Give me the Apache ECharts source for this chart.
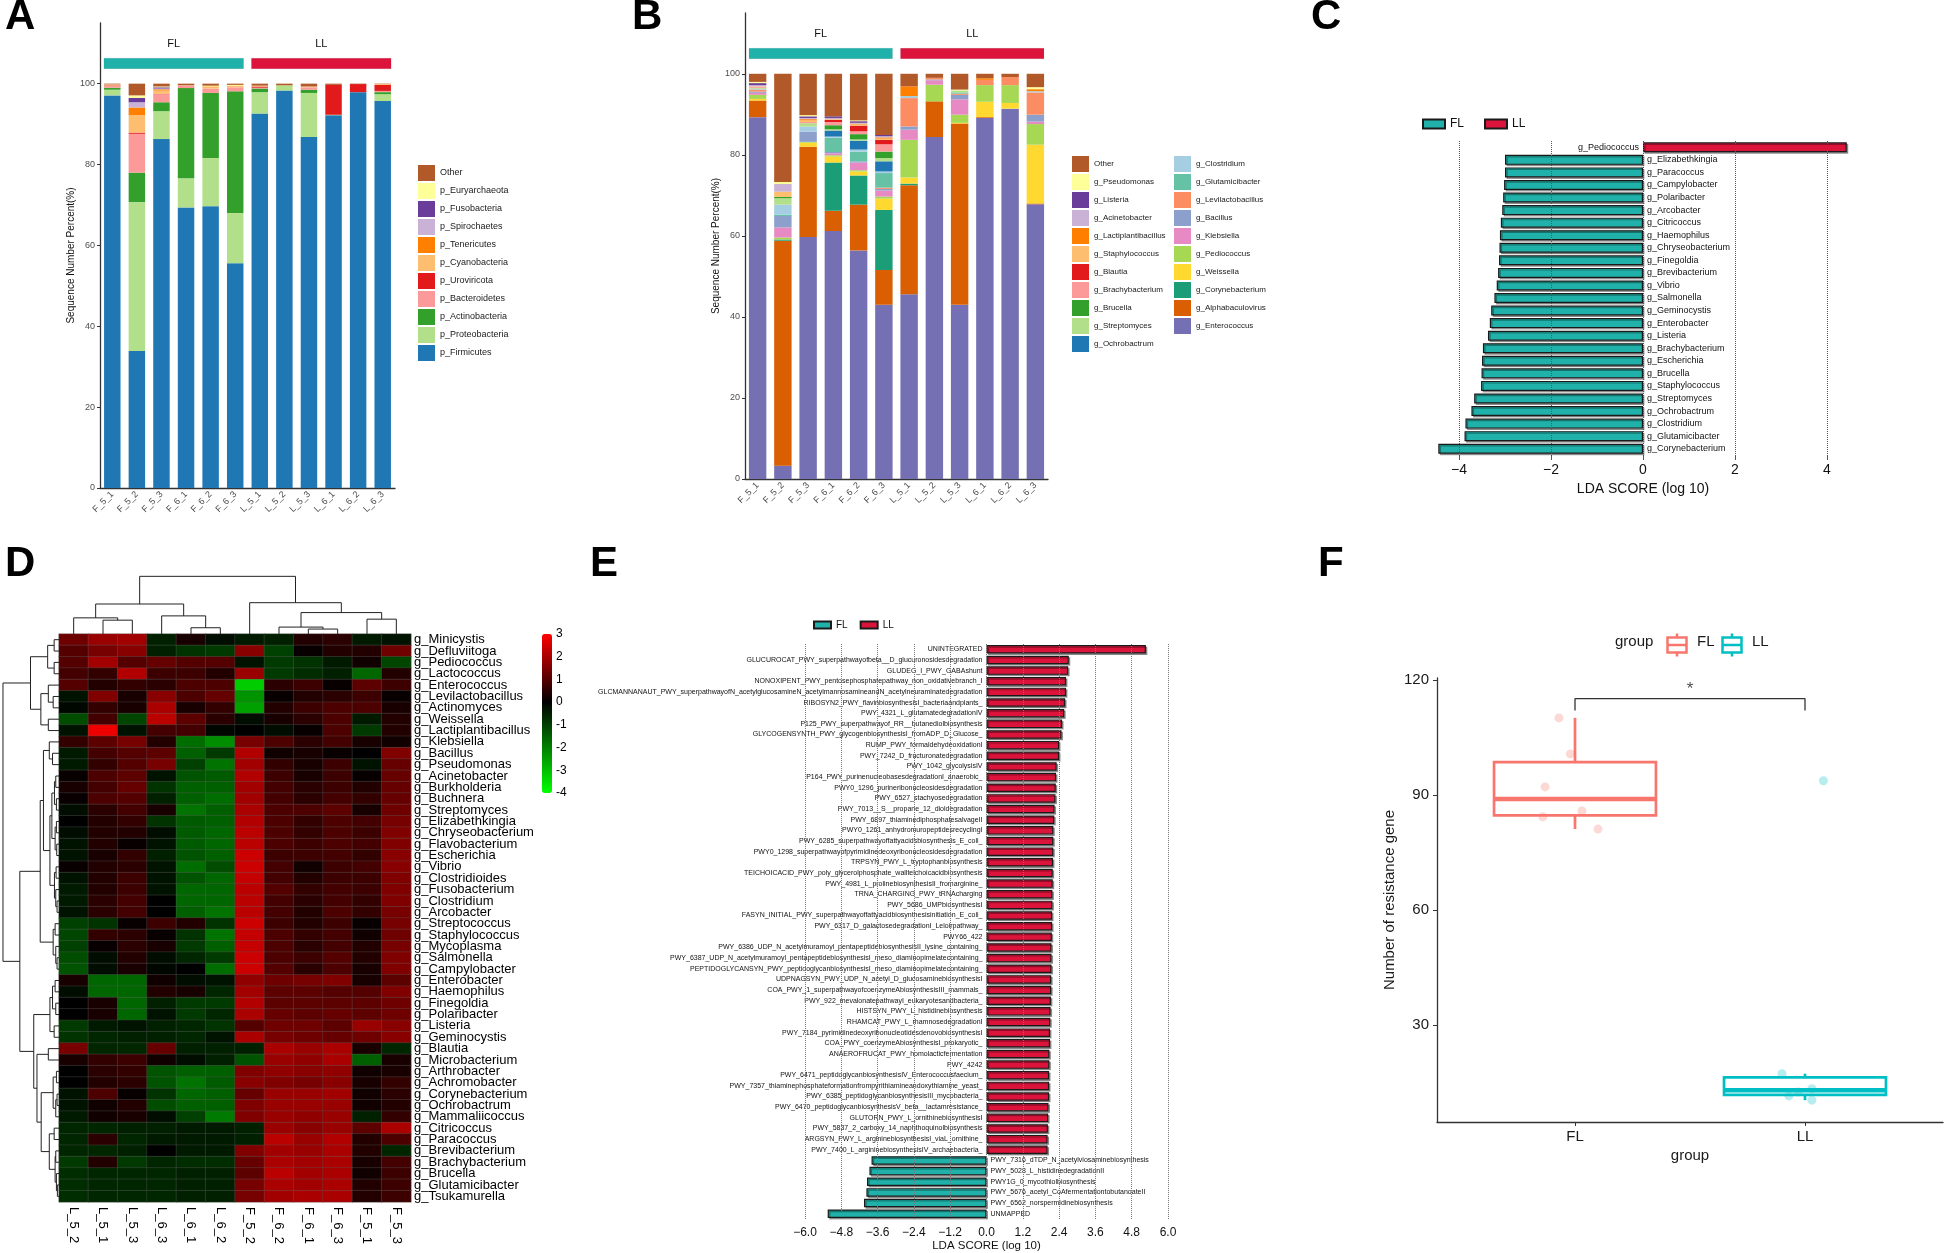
<!DOCTYPE html>
<html>
<head>
<meta charset="utf-8">
<script src="https://cdn.jsdelivr.net/npm/echarts@6.0.0/dist/echarts.min.js"></script>
<style>
html,body{margin:0;padding:0;background:#fff;}
#main{width:1944px;height:1253px;}
</style>
</head>
<body>
<div id="main"></div>
<script>
var SANS = "'Liberation Sans', Arial, sans-serif";
var NARROW = "'Liberation Sans Narrow', 'Liberation Sans', sans-serif";

// ---------- A / B : stacked composition ----------
var samples = ['F_5_1','F_5_2','F_5_3','F_6_1','F_6_2','F_6_3','L_5_1','L_5_2','L_5_3','L_6_1','L_6_2','L_6_3'];
var pctTicks = [0, 20, 40, 60, 80, 100];
var groupNames = ['FL', 'LL'];
var groupFirst = [0, 6];
var groupLast = [5, 11];
var groupColors = ['#20b2aa', '#dc143c'];

// bottom -> top of the stack
var phylumNames = ['p_Firmicutes','p_Proteobacteria','p_Actinobacteria','p_Bacteroidetes','p_Uroviricota','p_Cyanobacteria','p_Tenericutes','p_Spirochaetes','p_Fusobacteria','p_Euryarchaeota','Other'];
var phylumColors = ['#1f78b4','#b2df8a','#33a02c','#fb9a99','#e31a1c','#fdbf6f','#ff7f00','#cab2d6','#6a3d9a','#ffff99','#b15928'];
var phylumValues = [
  [97.1, 33.9, 86.3, 69.4, 69.7, 55.6, 92.6, 98.3, 86.8, 92.2, 97.9, 95.7],
  [1.4, 36.8, 6.9, 7.2, 11.9, 12.4, 5.3, 1.3, 10.9, 0.1, 0, 1.7],
  [0.5, 7.3, 2.2, 22.3, 16.1, 30.1, 0.9, 0, 0.8, 0, 0, 0.5],
  [0.5, 9.6, 2.0, 0.6, 1.1, 1.0, 0.2, 0, 0.6, 0, 0, 0.3],
  [0.1, 0.3, 0.1, 0, 0, 0, 0.3, 0, 0, 7.4, 2.0, 1.5],
  [0.1, 4.3, 0.8, 0.1, 0.3, 0.3, 0.1, 0, 0.2, 0, 0, 0.2],
  [0, 1.9, 0.3, 0, 0.2, 0.1, 0, 0, 0, 0, 0, 0],
  [0, 1.3, 0.2, 0, 0, 0, 0, 0, 0, 0, 0, 0],
  [0, 1.1, 0.3, 0, 0, 0, 0, 0, 0, 0, 0, 0],
  [0.1, 0.6, 0.2, 0, 0.2, 0.2, 0.1, 0, 0, 0, 0, 0],
  [0.2, 2.9, 0.7, 0.4, 0.5, 0.3, 0.5, 0.4, 0.7, 0.3, 0.1, 0.1]
];

var genusNames = ['g_Enterococcus','g_Alphabaculovirus','g_Corynebacterium','g_Weissella','g_Pediococcus','g_Klebsiella','g_Bacillus','g_Levilactobacillus','g_Glutamicibacter','g_Clostridium','g_Ochrobactrum','g_Streptomyces','g_Brucella','g_Brachybacterium','g_Blautia','g_Staphylococcus','g_Lactiplantibacillus','g_Acinetobacter','g_Listeria','g_Pseudomonas','Other'];
var genusColors = ['#7570b3','#d95f02','#1b9e77','#ffd92f','#a6d854','#e78ac3','#8da0cb','#fc8d62','#66c2a5','#a6cee3','#1f78b4','#b2df8a','#33a02c','#fb9a99','#e31a1c','#fdbf6f','#ff7f00','#cab2d6','#6a3d9a','#ffff99','#b15928'];
var genusValues = [
  [89.3, 3.3, 59.7, 61.2, 56.4, 43.0, 45.6, 84.4, 43.0, 89.1, 91.4, 67.8],
  [4.1, 55.5, 22.3, 5.0, 11.3, 8.6, 26.9, 8.8, 44.7, 0.2, 0, 0.2],
  [0, 0.3, 0, 11.9, 7.2, 14.8, 0.4, 0, 0, 0, 0, 0],
  [0.4, 0, 1.0, 1.5, 1.0, 2.8, 1.5, 0, 0.2, 3.8, 1.4, 14.5],
  [1.0, 0.5, 0.2, 0.3, 0.3, 0.5, 9.3, 4.1, 2.0, 4.1, 4.4, 5.1],
  [0.5, 2.5, 0, 0.5, 1.9, 1.5, 2.5, 1.1, 3.8, 0, 0, 0.6],
  [0.3, 2.8, 2.5, 0.3, 0.3, 0.4, 0.8, 0.2, 1.1, 0, 0, 1.7],
  [0.5, 0, 0, 0, 0, 0.3, 7.0, 0.4, 0.3, 1.3, 2.0, 5.5],
  [0, 0.3, 0, 3.5, 2.4, 3.6, 0, 0, 0.3, 0, 0, 0],
  [0.2, 2.5, 1.3, 0.3, 0.5, 0.4, 0.5, 0, 0, 0, 0, 0.3],
  [0, 0, 0, 1.5, 2.2, 2.5, 0, 0, 0, 0, 0, 0],
  [0.2, 1.6, 0.8, 0.3, 0.3, 0.8, 0, 0, 0.5, 0, 0, 0],
  [0, 0.3, 0, 1.0, 1.3, 1.6, 0, 0, 0, 0, 0, 0],
  [0.2, 0, 0.3, 0.8, 0.7, 1.8, 0, 0, 0, 0, 0, 0],
  [0, 0, 0, 0.5, 1.4, 1.1, 0, 0, 0, 0, 0, 0],
  [0.2, 1.3, 0.4, 0.2, 0.3, 0.3, 0, 0, 0, 0, 0, 0],
  [0, 0, 0.3, 0, 0.2, 0.3, 2.4, 0, 0, 0.4, 0, 0.5],
  [0.3, 1.9, 0.3, 0.3, 0.2, 0.3, 0, 0, 0, 0, 0, 0],
  [0.5, 0, 0.4, 0.4, 0.4, 0.3, 0, 0, 0, 0, 0, 0],
  [0.3, 0.5, 0.3, 0, 0.2, 0, 0, 0, 0.2, 0, 0, 0.5],
  [2.0, 26.7, 10.2, 10.5, 11.5, 15.1, 3.1, 1.0, 3.9, 1.1, 0.8, 3.3]
];

// ---------- C : LEfSe genera ----------
var cNames = ['g_Pediococcus','g_Elizabethkingia','g_Paracoccus','g_Campylobacter','g_Polaribacter','g_Arcobacter','g_Citricoccus','g_Haemophilus','g_Chryseobacterium','g_Finegoldia','g_Brevibacterium','g_Vibrio','g_Salmonella','g_Geminocystis','g_Enterobacter','g_Listeria','g_Brachybacterium','g_Escherichia','g_Brucella','g_Staphylococcus','g_Streptomyces','g_Ochrobactrum','g_Clostridium','g_Glutamicibacter','g_Corynebacterium'];
var cScores = [4.43, -3.0, -3.0, -3.02, -3.04, -3.06, -3.09, -3.11, -3.12, -3.13, -3.15, -3.18, -3.23, -3.30, -3.33, -3.37, -3.48, -3.50, -3.51, -3.52, -3.67, -3.73, -3.86, -3.88, -4.45];
var cTicks = [-4, -2, 0, 2, 4];

// ---------- D : heatmap ----------
var hmCols = ['L_5_2','L_5_1','L_5_3','L_6_3','L_6_1','L_6_2','F_5_2','F_6_2','F_6_1','F_6_3','F_5_1','F_5_3'];
var hmRows = ['g_Minicystis','g_Defluviitoga','g_Pediococcus','g_Lactococcus','g_Enterococcus','g_Levilactobacillus','g_Actinomyces','g_Weissella','g_Lactiplantibacillus','g_Klebsiella','g_Bacillus','g_Pseudomonas','g_Acinetobacter','g_Burkholderia','g_Buchnera','g_Streptomyces','g_Elizabethkingia','g_Chryseobacterium','g_Flavobacterium','g_Escherichia','g_Vibrio','g_Clostridioides','g_Fusobacterium','g_Clostridium','g_Arcobacter','g_Streptococcus','g_Staphylococcus','g_Mycoplasma','g_Salmonella','g_Campylobacter','g_Enterobacter','g_Haemophilus','g_Finegoldia','g_Polaribacter','g_Listeria','g_Geminocystis','g_Blautia','g_Microbacterium','g_Arthrobacter','g_Achromobacter','g_Corynebacterium','g_Ochrobactrum','g_Mammaliicoccus','g_Citricoccus','g_Paracoccus','g_Brevibacterium','g_Brachybacterium','g_Brucella','g_Glutamicibacter','g_Tsukamurella'];
var hmValues = [
  [1.3, 1.8, 1.9, -0.5, 0.3, -0.2, -0.4, -0.5, 0.4, 0.5, -0.4, -0.3],
  [1.0, 1.4, 1.6, -0.5, -0.8, -0.9, 1.6, -1.0, 0.1, 0.4, 0.4, 1.3],
  [1.0, 1.9, 1.0, 1.2, 1.0, 1.0, -0.3, -0.9, -0.8, -0.4, 0.2, -1.1],
  [0.8, 0.6, 2.1, 0.7, 0.7, 0.4, 1.8, -0.9, -0.7, -0.5, -1.6, 0.4],
  [1.0, 0.4, 0.6, 0.5, 0.9, 0.9, -3.2, 0.5, 0.7, 0.1, 1.1, 0.7],
  [-0.3, 1.5, 0.3, 1.6, 0.9, 1.2, -2.3, 0.1, 0.4, 0.5, 0.7, 0.1],
  [-0.1, 0.6, 0.3, 2.0, 0.3, 0.6, -2.5, 0.4, 0.7, 0.9, 0.9, 0.3],
  [-1.2, 0.8, -1.1, 2.2, 1.1, 0.5, -0.2, 0.3, 0.5, 0.9, -0.4, 0.4],
  [-0.3, 2.8, -0.3, 0.8, 0.8, -0.1, 0.0, -0.2, 0.1, 0.9, -0.9, 0.4],
  [0.6, 1.1, 1.4, 0.4, -1.7, -2.2, 1.4, 0.9, 0.5, 0.8, 0.3, 0.2],
  [-0.4, 0.8, 1.0, 1.1, -1.5, -0.9, 2.1, 0.2, 0.3, 0.1, 0.0, 1.5],
  [-0.4, 0.6, 1.0, 1.4, -1.0, -1.8, 1.9, 0.6, 0.3, 0.7, -0.3, 1.2],
  [0.1, 0.9, 1.1, -0.3, -1.3, -1.4, 2.1, 0.7, 0.3, 0.7, 0.1, 1.2],
  [0.3, 0.8, 1.2, -0.8, -1.5, -1.5, 1.9, 0.8, 0.5, 0.7, 0.4, 1.2],
  [0.1, 0.9, 1.0, -0.5, -1.5, -1.7, 1.9, 0.8, 0.5, 0.8, 0.6, 1.2],
  [-0.2, 0.5, 0.8, 0.3, -1.8, -1.5, 2.0, 0.9, 0.9, 1.1, 0.3, 1.3],
  [0.0, 0.4, 0.6, -0.8, -1.4, -1.5, 2.1, 0.9, 0.6, 0.9, 0.8, 1.4],
  [-0.2, 0.4, 0.4, -0.2, -1.4, -1.6, 2.2, 0.9, 0.6, 0.9, 0.7, 1.5],
  [-0.3, 0.4, 0.1, -0.3, -1.4, -1.6, 2.2, 0.9, 0.7, 0.9, 0.8, 1.5],
  [-0.3, 0.3, 0.6, -0.5, -1.3, -1.5, 2.4, 0.7, 0.7, 0.8, 0.6, 1.6],
  [0.1, 0.4, 0.5, -0.3, -1.7, -1.2, 2.4, 0.8, 0.2, 0.7, 0.8, 1.6],
  [-0.3, 0.4, 0.7, -0.3, -1.3, -1.6, 2.3, 0.8, 0.4, 0.7, 0.7, 1.5],
  [-0.4, 0.4, 0.7, -0.3, -1.6, -1.6, 2.2, 1.0, 0.6, 0.8, 0.7, 1.5],
  [-0.4, 0.5, 0.8, 0.0, -1.6, -1.6, 2.2, 0.8, 0.5, 0.8, 0.6, 1.5],
  [-0.3, 0.5, 0.8, 0.0, -1.5, -1.8, 2.2, 0.8, 0.4, 0.9, 0.6, 1.4],
  [-1.0, -0.8, 0.1, 0.7, 0.4, -0.8, 2.4, 0.7, 0.4, 0.7, 0.1, 1.4],
  [-1.1, 0.6, 0.5, 0.1, -0.8, -1.8, 2.3, 0.9, 0.6, 0.8, 0.2, 1.3],
  [-1.0, 0.1, 0.5, 0.3, -0.9, -1.5, 2.3, 0.9, 0.5, 0.8, 0.4, 1.4],
  [-1.2, -0.2, 0.4, -0.2, -0.6, -0.9, 2.4, 0.9, 0.7, 1.0, 0.4, 1.5],
  [-1.3, -0.2, 0.3, -0.1, 0.0, -1.7, 2.4, 1.0, 0.5, 0.9, 0.3, 1.5],
  [0.3, -1.6, -1.6, 0.2, -0.2, -0.3, 1.7, 1.3, 1.4, 1.5, 0.3, 1.1],
  [-0.2, -1.6, -1.6, 0.4, 0.3, -0.6, 1.9, 1.1, 1.1, 1.0, 1.0, 1.5],
  [0.0, 0.3, -1.6, -0.5, -0.9, -0.9, 2.1, 1.1, 1.1, 1.1, 1.1, 1.3],
  [0.0, 0.3, -1.6, -0.3, -0.9, -0.6, 2.0, 1.2, 1.1, 1.2, 1.1, 1.3],
  [-0.9, -0.4, -0.3, -0.5, -0.6, -0.8, 1.0, 1.3, 1.3, 1.1, 1.8, 1.6],
  [-0.8, -0.6, -0.5, -0.5, -0.6, -0.3, 2.0, 1.4, 1.3, 1.2, 1.3, 1.6],
  [1.4, -0.6, -0.6, 1.2, -0.5, -0.5, -0.5, 2.0, 1.8, 2.0, 0.3, -0.6],
  [0.3, 0.6, 0.7, 0.2, -0.2, -0.5, -1.3, 1.8, 1.7, 2.0, -1.5, 0.3],
  [0.0, 0.5, 0.6, -1.3, -1.5, -1.5, 1.5, 1.7, 1.6, 1.7, 0.2, 0.3],
  [0.0, 0.4, 0.5, -1.3, -1.8, -1.4, 1.6, 1.5, 1.4, 1.6, 0.3, 0.6],
  [-0.3, 0.9, 0.1, -0.8, -1.6, -1.5, 1.2, 1.8, 1.8, 1.9, 0.2, 0.5],
  [-0.3, 0.2, 0.4, -1.2, -1.5, -1.5, 1.5, 1.8, 1.8, 1.8, 0.2, 0.4],
  [-0.4, 0.2, 0.3, -0.2, -1.0, -1.9, 1.5, 1.8, 1.7, 1.8, -0.5, 0.6],
  [-0.6, -0.6, -0.5, -0.5, -0.4, -0.4, -0.5, 1.8, 1.6, 1.8, 1.1, 2.0],
  [-0.6, 0.5, -0.6, -0.4, -0.4, -0.4, -0.5, 2.2, 1.8, 2.1, 0.4, 0.9],
  [-0.6, -0.6, -0.5, 0.0, -0.4, -0.4, 1.5, 1.9, 1.8, 2.0, 0.4, -0.6],
  [-0.9, 0.4, -0.9, -0.6, -0.7, -0.7, 1.2, 2.0, 1.9, 2.0, 0.3, 0.8],
  [-0.7, -0.6, -0.6, -0.6, -0.5, -0.5, 1.1, 2.2, 1.9, 2.0, 0.2, 0.7],
  [-0.7, -0.6, -0.6, -0.6, -0.5, -0.5, 1.4, 2.0, 1.9, 2.0, 0.4, 0.7],
  [-0.7, -0.6, -0.6, -0.6, -0.5, -0.5, 1.4, 1.9, 2.0, 2.0, 0.4, 0.7]
];
// cluster trees: [left, right, mergeHeight], leaves are indices
var colTree = [[[0, [1, 2, 42], 49], [3, [4, 5, 19], 55], 91], [6, [[7, [8, 9, 15], 21], [10, 11, 45], 65], 95], 175];
var rowTree = [
  [[[0, 1, 15], [2, 3, 15], 35], [[4, [5, 6, 18], 33], [7, 8, 33], 56], 88],
  [
    [[[9, [10, 11, 20], 30], [[[[12, 13, 10], [14, 15, 8], 14], [[16, 17, 8], [18, 19, 7], 12], 22], [[20, 21, 9], [22, [23, 24, 6], 10], 14], 28], 48],
     [[25, 26, 12], [27, [28, 29, 6], 10], 18], 58],
    [[[[30, 31, 12], [32, 33, 10], 20], [34, 35, 15], 28],
     [[36, 37, 33], [[[38, 39, 8], [[40, 41, 6], 42, 10], 18], [[43, 44, 15], [[45, 46, 10], [47, [48, 49, 5], 8], 12], 30], 55], 68], 78],
    121],
  173];
var hmScale = [-4, -3, -2, -1, 0, 1, 2, 3];

// ---------- E : LEfSe pathways ----------
var ePaths = ['UNINTEGRATED','GLUCUROCAT_PWY_superpathwayofbeta__D_glucuronosidesdegradation','GLUDEG_I_PWY_GABAshunt','NONOXIPENT_PWY_pentosephosphatepathway_non_oxidativebranch_I','GLCMANNANAUT_PWY_superpathwayofN_acetylglucosamineN_acetylmannosamineandN_acetylneuraminatedegradation','RIBOSYN2_PWY_flavinbiosynthesisI_bacteriaandplants_','PWY_4321_L_glutamatedegradationIV','P125_PWY_superpathwayof_RR__butanediolbiosynthesis','GLYCOGENSYNTH_PWY_glycogenbiosynthesisI_fromADP_D_Glucose_','RUMP_PWY_formaldehydeoxidationI','PWY_7242_D_fructuronatedegradation','PWY_1042_glycolysisIV','P164_PWY_purinenucleobasesdegradationI_anaerobic_','PWY0_1296_purineribonucleosidesdegradation','PWY_6527_stachyosedegradation','PWY_7013__S__propane_12_dioldegradation','PWY_6897_thiaminediphosphatesalvageII','PWY0_1261_anhydromuropeptidesrecyclingI','PWY_6285_superpathwayoffattyacidsbiosynthesis_E_coli_','PWY0_1298_superpathwayofpyrimidinedeoxyribonucleosidesdegradation','TRPSYN_PWY_L_tryptophanbiosynthesis','TEICHOICACID_PWY_poly_glycerolphosphate_wallteichoicacidbiosynthesis','PWY_4981_L_prolinebiosynthesisII_fromarginine_','TRNA_CHARGING_PWY_tRNAcharging','PWY_5686_UMPbiosynthesisI','FASYN_INITIAL_PWY_superpathwayoffattyacidbiosynthesisinitiation_E_coli_','PWY_6317_D_galactosedegradationI_Leloirpathway_','PWY66_422','PWY_6386_UDP_N_acetylmuramoyl_pentapeptidebiosynthesisII_lysine_containing_','PWY_6387_UDP_N_acetylmuramoyl_pentapeptidebiosynthesisI_meso_diaminopimelatecontaining_','PEPTIDOGLYCANSYN_PWY_peptidoglycanbiosynthesisI_meso_diaminopimelatecontaining_','UDPNAGSYN_PWY_UDP_N_acetyl_D_glucosaminebiosynthesisI','COA_PWY_1_superpathwayofcoenzymeAbiosynthesisIII_mammals_','PWY_922_mevalonatepathwayI_eukaryotesandbacteria_','HISTSYN_PWY_L_histidinebiosynthesis','RHAMCAT_PWY_L_rhamnosedegradationI','PWY_7184_pyrimidinedeoxyribonucleotidesdenovobiosynthesisI','COA_PWY_coenzymeAbiosynthesisI_prokaryotic_','ANAEROFRUCAT_PWY_homolacticfermentation','PWY_4242','PWY_6471_peptidoglycanbiosynthesisIV_Enterococcusfaecium_','PWY_7357_thiaminephosphateformationfrompyrithiamineandoxythiamine_yeast_','PWY_6385_peptidoglycanbiosynthesisIII_mycobacteria_','PWY_6470_peptidoglycanbiosynthesisV_beta__lactamresistance_','GLUTORN_PWY_L_ornithinebiosynthesisI','PWY_5837_2_carboxy_14_naphthoquinolbiosynthesis','ARGSYN_PWY_L_argininebiosynthesisI_viaL_ornithine_','PWY_7400_L_argininebiosynthesisIV_archaebacteria_','PWY_7316_dTDP_N_acetylviosaminebiosynthesis','PWY_5028_L_histidinedegradationII','PWY1G_0_mycothiolbiosynthesis','PWY_5676_acetyl_CoAfermentationtobutanoateII','PWY_6562_norspermidinebiosynthesis','UNMAPPED'];
var eScores = [5.27, 2.72, 2.70, 2.63, 2.63, 2.60, 2.57, 2.50, 2.48, 2.40, 2.40, 2.32, 2.30, 2.29, 2.28, 2.25, 2.24, 2.21, 2.21, 2.21, 2.20, 2.19, 2.19, 2.18, 2.18, 2.17, 2.17, 2.16, 2.15, 2.15, 2.15, 2.14, 2.14, 2.13, 2.12, 2.11, 2.10, 2.10, 2.08, 2.08, 2.07, 2.07, 2.07, 2.05, 2.04, 2.03, 2.02, 2.02, -3.80, -3.87, -3.95, -3.97, -4.05, -5.25];
var eTicks = [-6, -4.8, -3.6, -2.4, -1.2, 0, 1.2, 2.4, 3.6, 4.8, 6];

// ---------- F : resistance genes ----------
var fGroups = ['FL', 'LL'];
var fColors = ['#f8766d', '#00bfc4'];
var flCounts = [110.1, 100.7, 92.1, 85.8, 84.3, 81.1];
var flJitter = [0.93, 0.98, 0.87, 1.03, 0.86, 1.10];
var llCounts = [93.7, 17.3, 13.4, 12.5, 11.5, 10.4];
var llJitter = [2.08, 1.90, 2.03, 1.97, 1.93, 2.03];
var fTicks = [30, 60, 90, 120];
var sigBracket = [[1, 112.0], [1, 115.1], [2, 115.1], [2, 112.0]];
var sigStar = [1.5, 117.6];

// ---------- helpers ----------
function minusFmt(d) {
  return function (v) { var s = d ? Math.abs(v).toFixed(d) : String(Math.abs(v)); return (v < 0 ? '\u2212' : '') + s; };
}

function headerItem(params, api) {
  var a = api.coord([api.value(0), 106.3]);
  var b = api.coord([api.value(1), 103.7]);
  var t = api.coord([api.value(0), 109.9]);
  var half = api.size([1, 0])[0] * 0.34;
  var i = api.value(2);
  return {type: 'group', children: [
    {type: 'rect', shape: {x: a[0] - half, y: a[1], width: b[0] - a[0] + 2 * half, height: b[1] - a[1]},
     style: {fill: groupColors[i], stroke: 'rgba(0,0,0,0.12)', lineWidth: 0.6}},
    {type: 'text', x: (a[0] + b[0]) / 2, y: t[1],
     style: {text: groupNames[i], fill: '#111', fontSize: 11, fontFamily: SANS, align: 'center', verticalAlign: 'middle'}}
  ]};
}
function headerSeries(ax) {
  return {type: 'custom', xAxisIndex: ax, yAxisIndex: ax, renderItem: headerItem, silent: true,
          data: groupFirst.map(function (f, i) { return [f, groupLast[i], i]; })};
}

function dendroSegments(tree, sideways) {
  var segs = [];
  function walk(t) {
    if (typeof t === 'number') return {p: t + 0.5, h: 0};
    var l = walk(t[0]), r = walk(t[1]), h = t[2];
    segs.push([l.p, l.h, l.p, h], [r.p, r.h, r.p, h], [l.p, h, r.p, h]);
    return {p: (l.p + r.p) / 2, h: h};
  }
  walk(tree);
  return sideways ? segs.map(function (s) { return [s[1], s[0], s[3], s[2]]; }) : segs;
}
function segItem(params, api) {
  var p1 = api.coord([api.value(0), api.value(1)]);
  var p2 = api.coord([api.value(2), api.value(3)]);
  return {type: 'line', shape: {x1: p1[0], y1: p1[1], x2: p2[0], y2: p2[1]}, style: {stroke: '#222', lineWidth: 1}};
}

function quantile(s, p) {
  var pos = (s.length - 1) * p, lo = Math.floor(pos), hi = Math.ceil(pos);
  return s[lo] + (s[hi] - s[lo]) * (pos - lo);
}
function boxStats(vals) {
  var s = vals.slice().sort(function (a, b) { return a - b; });
  var q1 = quantile(s, 0.25), med = quantile(s, 0.5), q3 = quantile(s, 0.75), iqr = q3 - q1;
  var inside = s.filter(function (v) { return v >= q1 - 1.5 * iqr && v <= q3 + 1.5 * iqr; });
  return [inside[0], q1, med, q3, inside[inside.length - 1]];
}
function boxItem(params, api) {
  var x = api.value(0), half = 0.352, c = fColors[params.dataIndex];
  var lo = api.coord([x, api.value(1)]), q1 = api.coord([x, api.value(2)]), md = api.coord([x, api.value(3)]);
  var q3 = api.coord([x, api.value(4)]), hi = api.coord([x, api.value(5)]);
  var L = api.coord([x - half, api.value(3)])[0], R = api.coord([x + half, api.value(3)])[0];
  return {type: 'group', children: [
    {type: 'line', shape: {x1: lo[0], y1: lo[1], x2: q1[0], y2: q1[1]}, style: {stroke: c, lineWidth: 2.7}},
    {type: 'line', shape: {x1: hi[0], y1: hi[1], x2: q3[0], y2: q3[1]}, style: {stroke: c, lineWidth: 2.7}},
    {type: 'rect', shape: {x: L, y: q3[1], width: R - L, height: q1[1] - q3[1]}, style: {fill: 'transparent', stroke: c, lineWidth: 2.7}},
    {type: 'line', shape: {x1: L, y1: md[1], x2: R, y2: md[1]}, style: {stroke: c, lineWidth: 4.5}}
  ]};
}

// ---------- series ----------
var series = [];
phylumNames.forEach(function (name, i) {
  series.push({type: 'bar', name: name, stack: 'phylum', xAxisIndex: 0, yAxisIndex: 0, barWidth: '67%',
               data: phylumValues[i], itemStyle: {color: phylumColors[i]}});
});
series.push(headerSeries(0));
genusNames.forEach(function (name, i) {
  series.push({type: 'bar', name: name, stack: 'genus', xAxisIndex: 1, yAxisIndex: 1, barWidth: '69%',
               data: genusValues[i], itemStyle: {color: genusColors[i]}});
});
series.push(headerSeries(1));

var ldaStyle = function (col) {
  return {color: col, borderColor: '#1a1a1a', borderWidth: 1.2, shadowColor: 'rgba(0,0,0,0.35)', shadowOffsetX: 1.5, shadowOffsetY: 1.5};
};
series.push({type: 'bar', name: 'FL', xAxisIndex: 2, yAxisIndex: 2, barWidth: 10, barGap: '-100%',
  data: cScores.map(function (v) { return v < 0 ? v : '-'; }), itemStyle: ldaStyle('#20b2aa'),
  label: {show: true, position: 'right', distance: 4, formatter: '{b}', fontSize: 9, fontFamily: NARROW, color: '#111'},
  markLine: {silent: true, symbol: 'none', label: {show: false}, lineStyle: {type: 'dotted', color: '#555', width: 1},
             data: cTicks.map(function (v) { return {xAxis: v}; })}});
series.push({type: 'bar', name: 'LL', xAxisIndex: 2, yAxisIndex: 2, barWidth: 10, barGap: '-100%',
  data: cScores.map(function (v) { return v > 0 ? v : '-'; }), itemStyle: ldaStyle('#dc143c'),
  label: {show: true, position: 'left', distance: 4, formatter: '{b}', fontSize: 9, fontFamily: NARROW, color: '#111'}});

var hmData = [];
hmValues.forEach(function (row, r) { row.forEach(function (v, c) { hmData.push([c, r, v]); }); });
var hmIndex = series.length;
series.push({type: 'heatmap', xAxisIndex: 3, yAxisIndex: 3, data: hmData,
  itemStyle: {borderColor: 'rgba(95,95,95,0.55)', borderWidth: 0.6}});
series.push({type: 'custom', xAxisIndex: 4, yAxisIndex: 4, renderItem: segItem, silent: true, data: dendroSegments(colTree, false)});
series.push({type: 'custom', xAxisIndex: 5, yAxisIndex: 5, renderItem: segItem, silent: true, data: dendroSegments(rowTree, true)});
series.push({type: 'scatter', xAxisIndex: 6, yAxisIndex: 6, data: []});

series.push({type: 'bar', name: 'FL', xAxisIndex: 7, yAxisIndex: 7, barWidth: 8.5, barGap: '-100%',
  data: eScores.map(function (v) { return v < 0 ? v : '-'; }), itemStyle: ldaStyle('#20b2aa'),
  label: {show: true, position: 'right', distance: 4, formatter: '{b}', fontSize: 7, fontFamily: NARROW, color: '#111'},
  markLine: {silent: true, symbol: 'none', label: {show: false}, lineStyle: {type: 'dotted', color: '#777', width: 1},
             data: eTicks.map(function (v) { return {xAxis: v}; })}});
series.push({type: 'bar', name: 'LL', xAxisIndex: 7, yAxisIndex: 7, barWidth: 8.5, barGap: '-100%',
  data: eScores.map(function (v) { return v > 0 ? v : '-'; }), itemStyle: ldaStyle('#dc143c'),
  label: {show: true, position: 'left', distance: 4, formatter: '{b}', fontSize: 7, fontFamily: NARROW, color: '#111'}});

series.push({type: 'scatter', xAxisIndex: 8, yAxisIndex: 8, symbolSize: 9, z: 1,
  data: flJitter.map(function (x, i) { return [x, flCounts[i]]; }), itemStyle: {color: 'rgba(248,118,109,0.35)'}});
series.push({type: 'scatter', xAxisIndex: 8, yAxisIndex: 8, symbolSize: 9, z: 1,
  data: llJitter.map(function (x, i) { return [x, llCounts[i]]; }), itemStyle: {color: 'rgba(0,191,196,0.35)'}});
series.push({type: 'custom', xAxisIndex: 8, yAxisIndex: 8, renderItem: boxItem, z: 3,
  data: [[1].concat(boxStats(flCounts)), [2].concat(boxStats(llCounts))]});
series.push({type: 'line', xAxisIndex: 8, yAxisIndex: 8, data: sigBracket, symbol: 'none',
  lineStyle: {color: '#333', width: 1.3}});
series.push({type: 'scatter', xAxisIndex: 8, yAxisIndex: 8, data: [sigStar], symbolSize: 0,
  label: {show: true, position: 'inside', formatter: '*', fontSize: 17, color: '#222'}});

// ---------- axes ----------
function pctY(grid, gap) {
  return {type: 'value', gridIndex: grid, min: 0, max: 115,
    axisLine: {show: true, lineStyle: {color: '#333', width: 1.3}},
    axisTick: {show: true, customValues: pctTicks, length: 3, lineStyle: {color: '#333'}},
    axisLabel: {customValues: pctTicks, fontSize: 9, color: '#4d4d4d', margin: 5},
    splitLine: {show: false},
    name: 'Sequence Number Percent(%)', nameLocation: 'middle', nameGap: gap,
    nameTextStyle: {fontSize: 10, color: '#111'}};
}
function sampleX(grid) {
  return {type: 'category', gridIndex: grid, data: samples,
    axisLine: {lineStyle: {color: '#333', width: 1.3}},
    axisTick: {alignWithLabel: true, length: 3, lineStyle: {color: '#333'}},
    axisLabel: {rotate: 45, fontSize: 9, color: '#4d4d4d', interval: 0, margin: 5}};
}
var hidden = {show: false};

var option = {
  animation: false,
  backgroundColor: '#fff',
  textStyle: {fontFamily: SANS},
  grid: [
    {left: 100, top: 23, width: 295, height: 465},
    {left: 745, top: 13, width: 303, height: 466},
    {left: 1436, top: 141, width: 414, height: 314},
    {left: 59, top: 634, width: 352, height: 568},
    {left: 59, top: 576, width: 352, height: 58},
    {left: 2, top: 634, width: 57, height: 568},
    {left: 548, top: 634, width: 4, height: 159},
    {left: 805, top: 644, width: 363, height: 575},
    {left: 1437, top: 678, width: 506, height: 444}
  ],
  xAxis: [
    sampleX(0),
    sampleX(1),
    {type: 'value', gridIndex: 2, min: -4.5, max: 4.5, splitLine: hidden, axisLine: hidden,
     axisTick: {show: true, customValues: cTicks, length: 5, lineStyle: {color: '#555'}},
     axisLabel: {customValues: cTicks, formatter: minusFmt(0), fontSize: 14, fontFamily: NARROW, color: '#111', margin: 8},
     name: 'LDA SCORE (log 10)', nameLocation: 'middle', nameGap: 27, nameTextStyle: {fontSize: 14, fontFamily: NARROW, color: '#111'}},
    {type: 'category', gridIndex: 3, data: hmCols, position: 'bottom', axisLine: hidden, axisTick: hidden,
     axisLabel: {rotate: -90, fontSize: 13, color: '#000', interval: 0, margin: 5}},
    {type: 'value', gridIndex: 4, min: 0, max: 12, show: false},
    {type: 'value', gridIndex: 5, min: 0, max: 176, inverse: true, show: false},
    {type: 'value', gridIndex: 6, min: 0, max: 1, show: false},
    {type: 'value', gridIndex: 7, min: -6, max: 6, splitLine: hidden, axisLine: hidden, axisTick: hidden,
     axisLabel: {customValues: eTicks, formatter: minusFmt(1), fontSize: 12, fontFamily: NARROW, color: '#111', margin: 8},
     name: 'LDA SCORE (log 10)', nameLocation: 'middle', nameGap: 20, nameTextStyle: {fontSize: 11.5, fontFamily: NARROW, color: '#111'}},
    {type: 'value', gridIndex: 8, min: 0.4, max: 2.6, splitLine: hidden,
     axisLine: {show: true, lineStyle: {color: '#333', width: 1.3}},
     axisTick: {show: true, customValues: [1, 2], length: 4, lineStyle: {color: '#333'}},
     axisLabel: {customValues: [1, 2], formatter: function (v) { return fGroups[Math.round(v) - 1]; }, fontSize: 15, color: '#1a1a1a', margin: 7},
     name: 'group', nameLocation: 'middle', nameGap: 26, nameTextStyle: {fontSize: 15, color: '#1a1a1a'}}
  ],
  yAxis: [
    pctY(0, 23),
    pctY(1, 22),
    {type: 'category', gridIndex: 2, data: cNames, inverse: true, show: false},
    {type: 'category', gridIndex: 3, data: hmRows, inverse: true, position: 'right', axisLine: hidden, axisTick: hidden,
     axisLabel: {fontSize: 13, color: '#000', interval: 0, margin: 3}},
    {type: 'value', gridIndex: 4, min: 0, max: 176, show: false},
    {type: 'value', gridIndex: 5, min: 0, max: 50, inverse: true, show: false},
    {type: 'value', gridIndex: 6, min: -4, max: 3, interval: 1, position: 'right', axisLine: hidden, axisTick: hidden,
     splitLine: hidden, axisLabel: {fontSize: 12, color: '#000', margin: 4}},
    {type: 'category', gridIndex: 7, data: ePaths, inverse: true, show: false},
    {type: 'value', gridIndex: 8, min: 4.7, max: 120.5, splitLine: hidden,
     axisLine: {show: true, lineStyle: {color: '#333', width: 1.3}},
     axisTick: {show: true, customValues: fTicks, length: 4, lineStyle: {color: '#333'}},
     axisLabel: {customValues: fTicks, fontSize: 15, color: '#1a1a1a', margin: 8},
     name: 'Number of resistance gene', nameLocation: 'middle', nameGap: 40, nameTextStyle: {fontSize: 15, color: '#1a1a1a'}}
  ],
  visualMap: {type: 'continuous', seriesIndex: hmIndex, min: -4, max: 3, calculable: false, hoverLink: false,
    left: 542, top: 634, itemWidth: 10, itemHeight: 159, padding: 0, text: null,
    inRange: {color: hmScale.map(function (v) {
      var k = v < 0 ? Math.round(255 * -v / 4) : Math.round(255 * v / 3);
      return v < 0 ? 'rgb(0,' + k + ',0)' : 'rgb(' + k + ',0,0)';
    })}},
  legend: [
    {data: phylumNames.slice().reverse(), left: 413, top: 160, orient: 'vertical', icon: 'rect', itemWidth: 17, itemHeight: 16,
     itemGap: 2, selectedMode: false, textStyle: {fontSize: 9, color: '#1a1a1a'}},
    {data: genusNames.slice().reverse().slice(0, 11), left: 1067, top: 151, orient: 'vertical', icon: 'rect', itemWidth: 17,
     itemHeight: 16, itemGap: 2, selectedMode: false, textStyle: {fontSize: 8, color: '#1a1a1a'}},
    {data: genusNames.slice().reverse().slice(11), left: 1169, top: 151, orient: 'vertical', icon: 'rect', itemWidth: 17,
     itemHeight: 16, itemGap: 2, selectedMode: false, textStyle: {fontSize: 8, color: '#1a1a1a'}},
    {data: ['FL', 'LL'], left: 1417, top: 113, icon: 'rect', itemWidth: 22, itemHeight: 9, itemGap: 20, selectedMode: false,
     textStyle: {fontSize: 12, fontFamily: NARROW, color: '#111'}},
    {data: ['FL', 'LL'], left: 808, top: 615, icon: 'rect', itemWidth: 17, itemHeight: 7, itemGap: 12, selectedMode: false,
     textStyle: {fontSize: 10, fontFamily: NARROW, color: '#111'}}
  ],
  graphic: [
    {type: 'text', left: 5, top: -4, style: {text: 'A', font: 'bold 42px ' + SANS, fill: '#000'}},
    {type: 'text', left: 632, top: -4, style: {text: 'B', font: 'bold 42px ' + SANS, fill: '#000'}},
    {type: 'text', left: 1311, top: -4, style: {text: 'C', font: 'bold 42px ' + SANS, fill: '#000'}},
    {type: 'text', left: 5, top: 543, style: {text: 'D', font: 'bold 42px ' + SANS, fill: '#000'}},
    {type: 'text', left: 590, top: 543, style: {text: 'E', font: 'bold 42px ' + SANS, fill: '#000'}},
    {type: 'text', left: 1318, top: 543, style: {text: 'F', font: 'bold 42px ' + SANS, fill: '#000'}},
    // F legend (ggplot boxplot keys)
    {type: 'text', left: 1615, top: 634, style: {text: 'group', font: '15px ' + SANS, fill: '#1a1a1a'}},
    {type: 'group', left: 1665, top: 631, children: [
      {type: 'rect', shape: {x: 1, y: 4, width: 19, height: 15}, style: {fill: '#fff', stroke: fColors[0], lineWidth: 2.5}},
      {type: 'line', shape: {x1: 1, y1: 11.5, x2: 20, y2: 11.5}, style: {stroke: fColors[0], lineWidth: 2.5}},
      {type: 'line', shape: {x1: 10.5, y1: 0, x2: 10.5, y2: 4}, style: {stroke: fColors[0], lineWidth: 2.5}},
      {type: 'line', shape: {x1: 10.5, y1: 19, x2: 10.5, y2: 23}, style: {stroke: fColors[0], lineWidth: 2.5}}
    ]},
    {type: 'text', left: 1697, top: 634, style: {text: 'FL', font: '15px ' + SANS, fill: '#1a1a1a'}},
    {type: 'group', left: 1720, top: 631, children: [
      {type: 'rect', shape: {x: 1, y: 4, width: 19, height: 15}, style: {fill: '#fff', stroke: fColors[1], lineWidth: 2.5}},
      {type: 'line', shape: {x1: 1, y1: 11.5, x2: 20, y2: 11.5}, style: {stroke: fColors[1], lineWidth: 2.5}},
      {type: 'line', shape: {x1: 10.5, y1: 0, x2: 10.5, y2: 4}, style: {stroke: fColors[1], lineWidth: 2.5}},
      {type: 'line', shape: {x1: 10.5, y1: 19, x2: 10.5, y2: 23}, style: {stroke: fColors[1], lineWidth: 2.5}}
    ]},
    {type: 'text', left: 1752, top: 634, style: {text: 'LL', font: '15px ' + SANS, fill: '#1a1a1a'}}
  ],
  series: series
};

var chart = echarts.init(document.getElementById('main'));
chart.setOption(option);
</script>
</body>
</html>
